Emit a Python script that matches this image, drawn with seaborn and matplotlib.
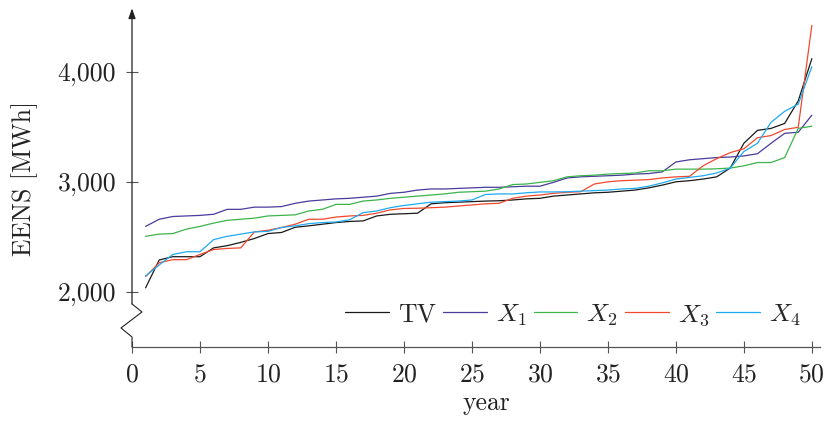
import numpy as np
import pandas as pd
import matplotlib
matplotlib.use('Agg')
import matplotlib.pyplot as plt
import seaborn as sns
from matplotlib.ticker import FuncFormatter

# valores (EENS em MWh, anos 1..50 ordenados)
anos = list(range(1, 51))

tv = [2037, 2290, 2320, 2320, 2320, 2400, 2420, 2450, 2485, 2530,
      2540, 2587, 2600, 2615, 2630, 2640, 2645, 2690, 2705, 2710,
      2715, 2800, 2810, 2815, 2820, 2825, 2828, 2835, 2845, 2850,
      2870, 2880, 2890, 2900, 2905, 2915, 2925, 2945, 2970, 3000,
      3010, 3025, 3045, 3125, 3350, 3467, 3485, 3530, 3735, 4118]

x1 = [2595, 2660, 2685, 2690, 2695, 2705, 2750, 2750, 2770, 2770,
      2775, 2805, 2825, 2835, 2845, 2850, 2860, 2870, 2895, 2905,
      2925, 2935, 2935, 2940, 2945, 2950, 2950, 2955, 2960, 2960,
      2995, 3035, 3045, 3050, 3055, 3060, 3070, 3075, 3090, 3180,
      3200, 3210, 3220, 3225, 3235, 3255, 3350, 3440, 3450, 3605]

x2 = [2505, 2525, 2530, 2570, 2595, 2625, 2650, 2660, 2670, 2690,
      2695, 2700, 2735, 2750, 2795, 2795, 2825, 2835, 2850, 2860,
      2870, 2880, 2890, 2905, 2910, 2915, 2935, 2975, 2980, 2995,
      3010, 3045, 3055, 3060, 3070, 3075, 3080, 3100, 3100, 3115,
      3115, 3115, 3118, 3125, 3145, 3175, 3175, 3220, 3485, 3505]

x3 = [2140, 2265, 2293, 2293, 2340, 2385, 2395, 2400, 2545, 2560,
      2585, 2615, 2660, 2660, 2680, 2690, 2695, 2715, 2745, 2758,
      2760, 2765, 2770, 2780, 2790, 2800, 2805, 2850, 2870, 2880,
      2895, 2905, 2910, 2980, 3000, 3010, 3015, 3020, 3035, 3045,
      3050, 3145, 3210, 3265, 3300, 3400, 3420, 3475, 3495, 4420]

x4 = [2145, 2245, 2340, 2365, 2365, 2475, 2505, 2525, 2545, 2550,
      2585, 2600, 2620, 2630, 2635, 2655, 2720, 2735, 2765, 2785,
      2800, 2815, 2820, 2825, 2835, 2885, 2890, 2890, 2900, 2908,
      2908, 2910, 2915, 2920, 2925, 2935, 2940, 2960, 2990, 3025,
      3040, 3055, 3080, 3125, 3275, 3350, 3540, 3640, 3705, 4045]

nomes = ['TV', '$X_1$', '$X_2$', '$X_3$', '$X_4$']
cores = ['#1a1a1a', '#4a3b9c', '#3cb44b', '#f2492e', '#1eaaf0']

df = pd.DataFrame({
    'ano': anos * 5,
    'eens': tv + x1 + x2 + x3 + x4,
    'serie': [n for n in nomes for _ in anos],
})

sns.set_theme(style='ticks')
plt.rcParams['font.family'] = ['cmr10', 'DejaVu Serif']
plt.rcParams['mathtext.fontset'] = 'cm'
plt.rcParams['axes.formatter.use_mathtext'] = True
plt.rcParams['axes.unicode_minus'] = False

fig = plt.figure(figsize=(8.33, 4.21), dpi=100)
ax = fig.add_axes([132 / 833, (421 - 347) / 421, 688 / 833, 337 / 421])

sns.lineplot(data=df, x='ano', y='eens', hue='serie', hue_order=nomes,
             palette=dict(zip(nomes, cores)), linewidth=0.9, ax=ax)

ax.set_xlim(0, 50.6)
ax.set_ylim(1500, 4560)
ax.set_xticks(range(0, 51, 5))
ax.set_yticks([2000, 3000, 4000])
ax.yaxis.set_major_formatter(FuncFormatter(lambda v, p: f'{v:,.0f}'))

cor_eixo = '#555555'
for lado in ['top', 'right', 'left']:
    ax.spines[lado].set_visible(False)
ax.spines['bottom'].set_color(cor_eixo)
ax.spines['bottom'].set_linewidth(0.9)
ax.tick_params(axis='both', direction='inout', length=8, width=0.8,
               color=cor_eixo, labelsize=18.5, labelcolor='#222222')
ax.tick_params(axis='x', pad=7)
ax.tick_params(axis='y', pad=7.5)

# eixo y com quebra (zigue-zague) e seta no topo
ax.plot([0, 0, 0.735, -0.81, 0, 0], [1891, 1891, 1818, 1673, 1591, 1500],
        color='#222222', lw=0.8, clip_on=False, zorder=5)
ax.annotate('', xy=(0, 4575), xytext=(0, 1891),
            arrowprops=dict(arrowstyle='-|>,head_length=0.5,head_width=0.18',
                            lw=0.9, color='#222222', shrinkA=0, shrinkB=0),
            annotation_clip=False)

ax.set_xlabel('year', fontsize=18.5, color='#222222')
ax.set_ylabel('EENS [MWh]', fontsize=18.5, color='#222222')
ax.xaxis.set_label_coords(0.515, -0.13)
ax.yaxis.set_label_coords(-0.137, 0.5)

h, l = ax.get_legend_handles_labels()
ax.legend(h, l, loc='center right', bbox_to_anchor=(0.972, 0.095),
          ncol=5, frameon=False, fontsize=18.5, handlelength=1.7,
          handletextpad=0.35, columnspacing=0.28, borderpad=0,
          borderaxespad=0)

plt.savefig('out.png', dpi=100)
